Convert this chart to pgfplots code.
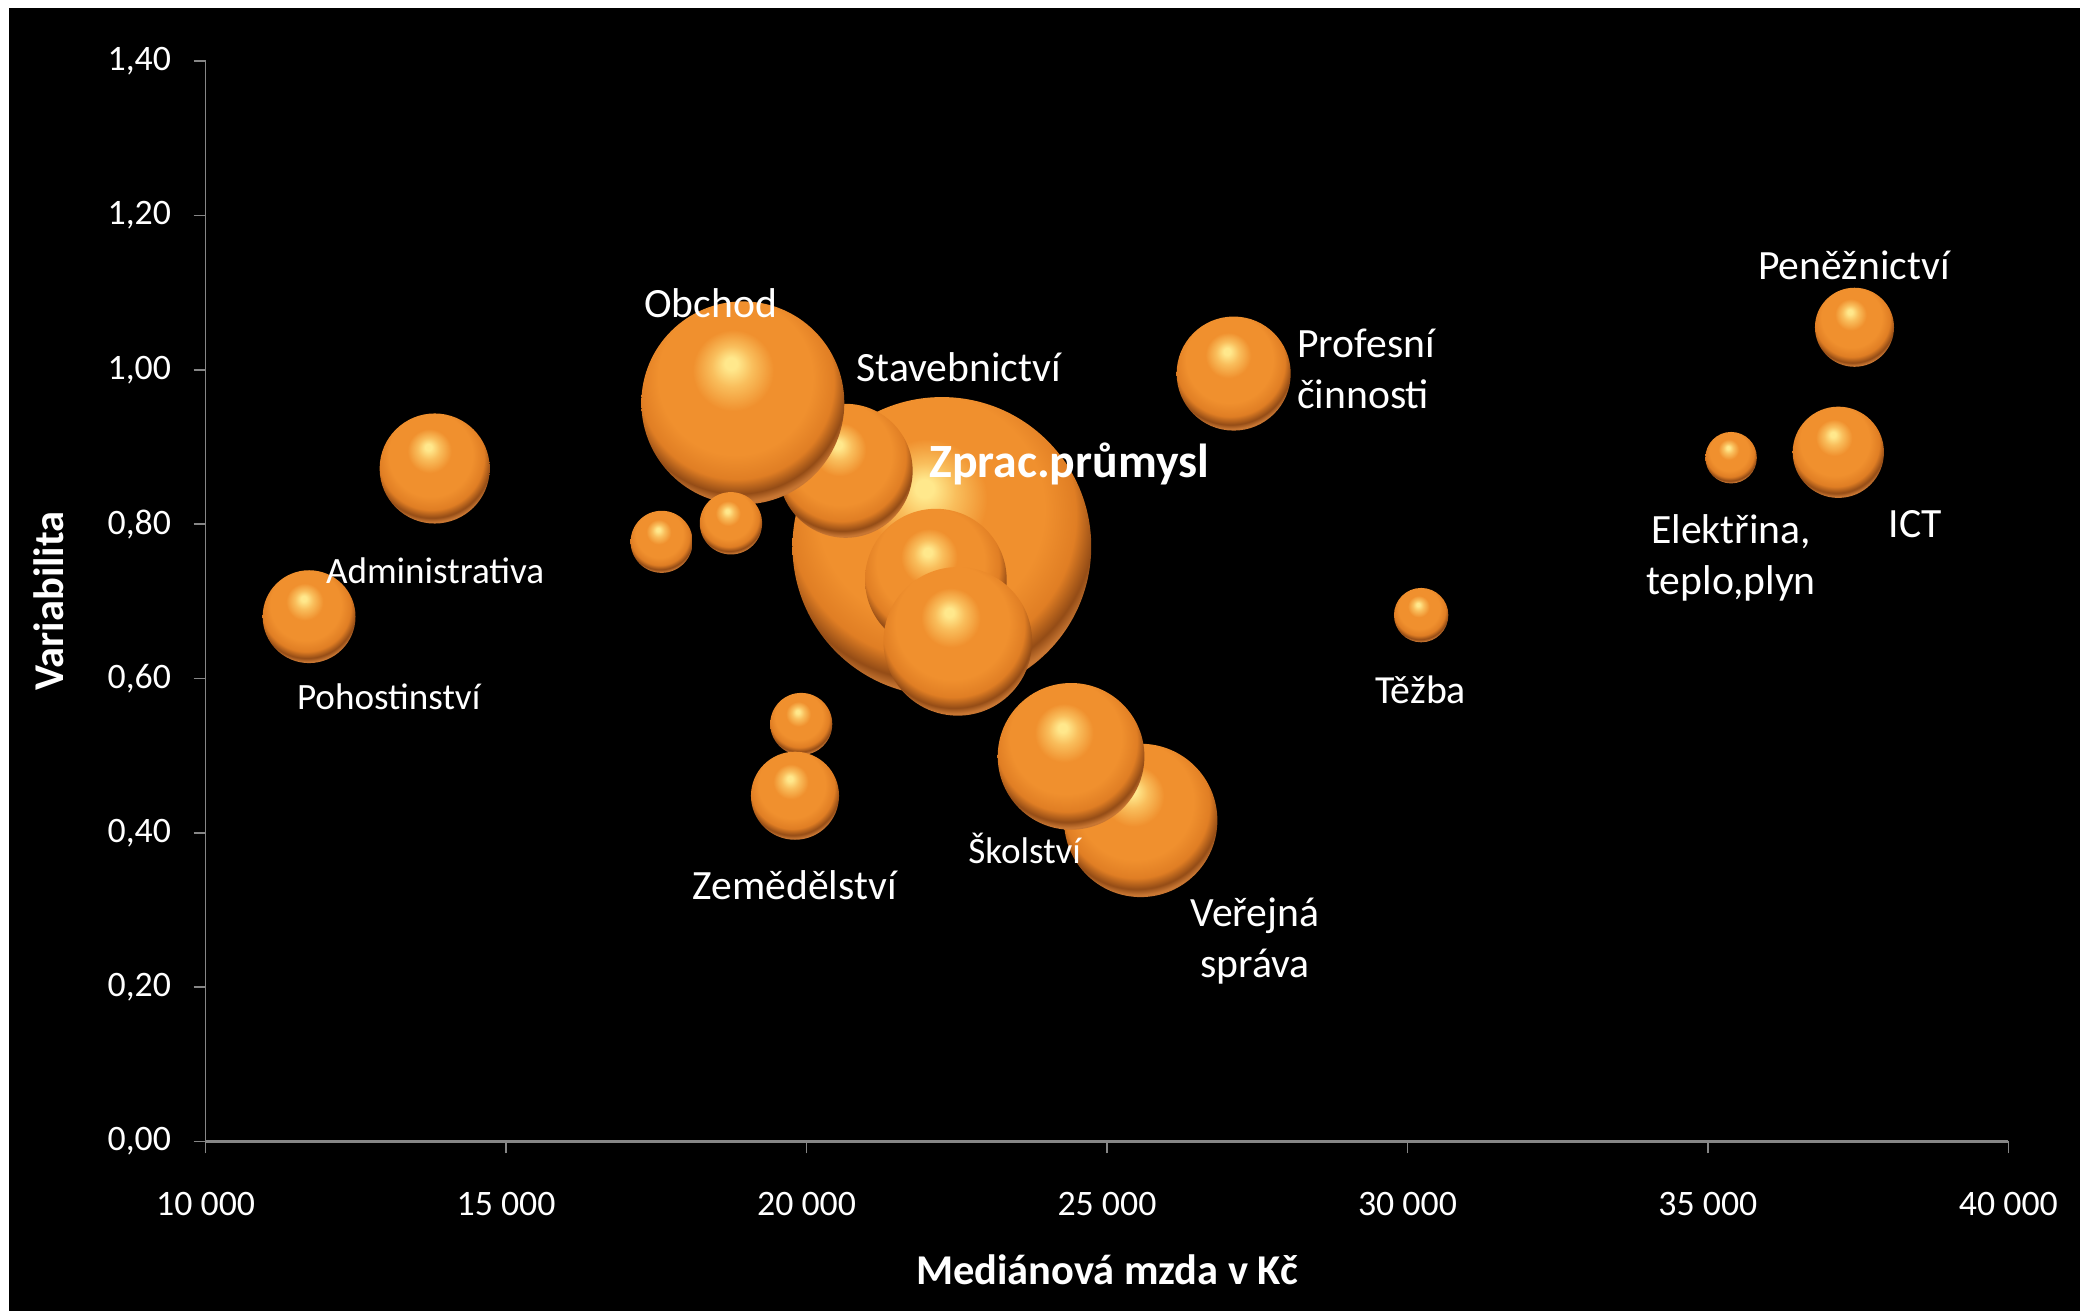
\documentclass[border=0pt]{standalone}
\usepackage{fontspec}
\setmainfont{Carlito}
\usepackage{pgfplots}
\usepackage{pgfplotstable}
\pgfplotsset{compat=1.18}
\definecolor{axgray}{RGB}{134,134,134}
\definecolor{hlc}{RGB}{255,232,140}
\definecolor{hlm}{RGB}{249,190,92}
\definecolor{orc}{RGB}{240,144,46}
\definecolor{orc2}{RGB}{224,126,36}
\definecolor{drk}{RGB}{148,76,22}
\definecolor{rim}{RGB}{200,118,50}
\pgfdeclareradialshading{obub}{\pgfpoint{-3bp}{10bp}}{%
  color(0bp)=(hlc); color(1.5bp)=(hlc); color(5bp)=(hlm); color(10bp)=(orc);
  color(19bp)=(orc); color(24bp)=(orc2); color(27bp)=(drk); color(28.6bp)=(rim); color(50bp)=(rim)}
\pgfdeclareplotmark{obubble}{%
  \pgfpathcircle{\pgfpointorigin}{\pgfplotmarksize}%
  \pgfshadepath{obub}{0}%
  \pgfusepath{discard}}

\pgfplotstableread{
x y r
22252 0.771 56.3
25561 0.416 28.9
20651 0.869 25.25
18940 0.957 38.25
22152 0.728 26.7
22517 0.648 28.0
24402 0.499 27.65
11722 0.680 17.5
13812 0.872 20.75
17589 0.777 11.7
18742 0.801 11.75
19912 0.541 11.7
19808 0.448 16.6
27108 0.995 21.5
30228 0.682 10.25
35386 0.886 9.7
37170 0.893 17.2
37439 1.055 14.9
}\bubbles

\begin{document}
\begin{tikzpicture}[
  lbl/.style={text=white, inner sep=0pt, font=\fontsize{15.7}{19.3}\selectfont},
  lbls/.style={text=white, inner sep=0pt, font=\fontsize{14}{17}\selectfont}]
\fill[white, use as bounding box] (-77.5pt,-63.75pt) rectangle (706.5pt,430.25pt);
\fill[black] (-74.1pt,-63.75pt) rectangle (706.5pt,427.25pt);
\begin{axis}[
  at={(0pt,0pt)}, anchor=south west,
  scale only axis, width=679.5pt, height=407.25pt,
  xmin=10000, xmax=40000, ymin=0, ymax=1.4,
  clip=false, scaled x ticks=false, scaled y ticks=false,
  axis x line*=bottom, axis y line*=left,
  axis line style={draw=axgray, line width=0.6pt},
  x axis line style={line width=1.3pt},
  xtick={10000,15000,20000,25000,30000,35000,40000},
  xticklabels={10 000,15 000,20 000,25 000,30 000,35 000,40 000},
  ytick={0,0.2,0.4,0.6,0.8,1.0,1.2,1.4},
  yticklabels={{0,00},{0,20},{0,40},{0,60},{0,80},{1,00},{1,20},{1,40}},
  tick align=outside, major tick length=4.5pt,
  tick style={draw=axgray, line width=0.6pt},
  ticklabel style={font=\fontsize{13.5}{16}\selectfont, text=white},
  yticklabel style={xshift=-5pt},
  xticklabel style={yshift=-11pt},
  xlabel={Mediánová mzda v Kč},
  ylabel={Variabilita},
  label style={font=\bfseries\fontsize{16}{19}\selectfont, text=white},
  xlabel style={at={(axis description cs:0.5,-0.1185)}, anchor=center},
  ylabel style={at={(axis description cs:-0.0868,0.5)}, anchor=center},
]
\addplot[scatter, only marks, mark=obubble,
  visualization depends on={\thisrow{r} \as \rad},
  scatter/@pre marker code/.append style={/tikz/mark size=\rad}]
  table[x=x, y=y] {\bubbles};

\coordinate (Lobchod) at (axis cs:18404,1.0673);
\coordinate (Lstav) at (axis cs:22534,0.9852);
\coordinate (Lzprac) at (axis cs:24371,0.8598);
\coordinate (Lprof) at (axis cs:28157,0.9493);
\coordinate (Lpen) at (axis cs:37428,1.1171);
\coordinate (Lelek) at (axis cs:35386,0.7084);
\coordinate (Lict) at (axis cs:38448,0.7821);
\coordinate (Ltez) at (axis cs:30218,0.5681);
\coordinate (Ladm) at (axis cs:13819,0.7236);
\coordinate (Lpoh) at (axis cs:13046,0.5593);
\coordinate (Lskol) at (axis cs:23630,0.3607);
\coordinate (Lzem) at (axis cs:19801,0.3130);
\coordinate (Lver) at (axis cs:27461,0.2121);
\end{axis}
\node[lbl, anchor=base] at (Lobchod) {Obchod};
\node[lbl, anchor=base] at (Lstav) {Stavebnictví};
\node[text=white, inner sep=0pt, anchor=base, font=\bfseries\fontsize{18}{21}\selectfont] at (Lzprac) {Zprac.průmysl};
\node[lbl, anchor=base west, align=left] at (Lprof) {Profesní\\činnosti};
\node[lbl, anchor=base] at (Lpen) {Peněžnictví};
\node[lbl, anchor=base, align=center] at (Lelek) {Elektřina,\\teplo,plyn};
\node[lbl, anchor=base] at (Lict) {ICT};
\node[lbl, anchor=base, font=\fontsize{15}{18}\selectfont] at (Ltez) {Těžba};
\node[lbls, anchor=base] at (Ladm) {Administrativa};
\node[lbls, anchor=base] at (Lpoh) {Pohostinství};
\node[lbls, anchor=base] at (Lskol) {Školství};
\node[lbl, anchor=base] at (Lzem) {Zemědělství};
\node[lbl, anchor=base, align=center] at (Lver) {Veřejná\\správa};
\end{tikzpicture}
\end{document}
